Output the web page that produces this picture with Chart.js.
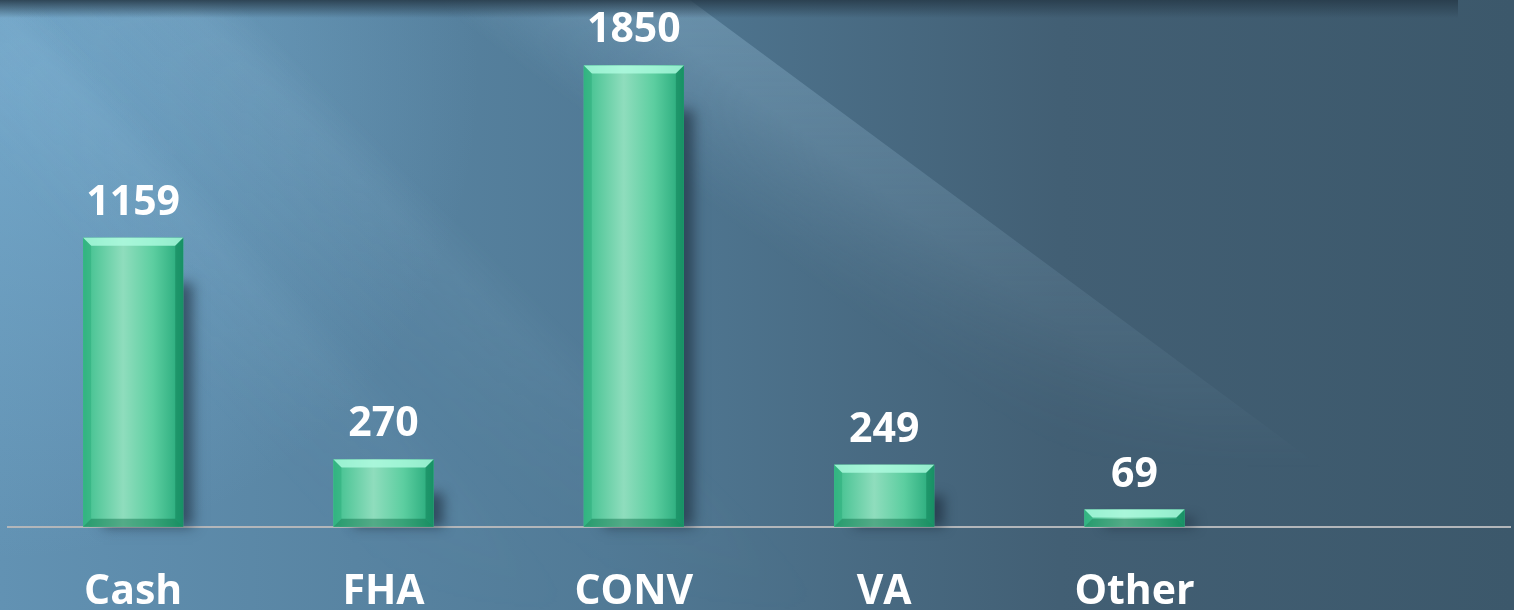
<!DOCTYPE html>
<html>
<head>
<meta charset="utf-8">
<script src="https://cdn.jsdelivr.net/npm/chart.js@4.4.0/dist/chart.umd.min.js"></script>
<style>
    html, body { margin: 0; padding: 0; background: #4a6f88; }
    #caixa { width: 1514px; height: 610px; position: relative; }
</style>
</head>
<body>
<div id="caixa"><canvas id="graficoResumo"></canvas></div>
<script>
// Dados do gráfico
const categorias = ['Cash', 'FHA', 'CONV', 'VA', 'Other', ''];
const valores = [1159, 270, 1850, 249, 69, null];
const eixoMax = 2000;

const fonteBase = { family: '"Open Sans", "DejaVu Sans", sans-serif', size: 41, weight: 'bold' };

// Feixe de luz diagonal (desenhado num canvas auxiliar)
function feixe(ctx, w, h, x0, largura, incl, alfa, fimY, nitido) {
    const aux = document.createElement('canvas');
    aux.width = w; aux.height = h;
    const a = aux.getContext('2d');
    const gp = a.createLinearGradient(x0 - largura, 0, x0, 0);
    gp.addColorStop(0, 'rgba(180,220,245,0)');
    gp.addColorStop(0.75, `rgba(180,220,245,${alfa})`);
    gp.addColorStop(1, nitido ? `rgba(180,220,245,${alfa})` : 'rgba(180,220,245,0)');
    a.save();
    a.setTransform(1, 0, 1 / incl, 1, 0, 0);
    a.fillStyle = gp;
    a.fillRect(x0 - largura, 0, largura, h);
    a.restore();
    // desvanece ao longo do feixe
    a.globalCompositeOperation = 'destination-in';
    const gl = a.createLinearGradient(0, 0, 0, fimY);
    gl.addColorStop(0, 'rgba(0,0,0,1)');
    gl.addColorStop(1, 'rgba(0,0,0,0)');
    a.fillStyle = gl;
    a.fillRect(0, 0, w, h);
    ctx.drawImage(aux, 0, 0);
}

// Fundo azul com faixas de luz
const fundo = {
    id: 'fundo',
    beforeDraw(chart) {
        const ctx = chart.ctx, w = chart.width, h = chart.height;
        ctx.save();
        const g = ctx.createLinearGradient(0, 0, w, 0);
        g.addColorStop(0, '#6292b3');
        g.addColorStop(0.4, '#517a96');
        g.addColorStop(0.7, '#425f74');
        g.addColorStop(1, '#3c586b');
        ctx.fillStyle = g;
        ctx.fillRect(0, 0, w, h);

        // canto superior esquerdo mais claro
        const r = ctx.createRadialGradient(0, 80, 10, 0, 80, 480);
        r.addColorStop(0, 'rgba(130,185,220,0.5)');
        r.addColorStop(1, 'rgba(130,185,220,0)');
        ctx.fillStyle = r;
        ctx.fillRect(0, 0, w, h);

        feixe(ctx, w, h, 690, 260, 0.74, 0.26, 470, true);
        feixe(ctx, w, h, 240, 240, 1.0, 0.10, 620, false);
        feixe(ctx, w, h, 40, 200, 1.1, 0.10, 620, false);

        // faixa escura no topo
        const t = ctx.createLinearGradient(0, 0, 0, 18);
        t.addColorStop(0, 'rgba(40,60,75,0.9)');
        t.addColorStop(1, 'rgba(40,60,75,0)');
        ctx.fillStyle = t;
        ctx.fillRect(0, 0, 1458, 18);
        ctx.restore();
    }
};

// Sombra, bisel e rótulos das barras
const biselBarras = {
    id: 'biselBarras',
    beforeDatasetsDraw(chart) {
        const ctx = chart.ctx;
        ctx.save();
        chart.getDatasetMeta(0).data.forEach((bar, i) => {
            if (valores[i] == null) return;
            const x = bar.x - bar.width / 2;
            const h = bar.base - bar.y;
            ctx.shadowColor = 'rgba(25,40,55,0.6)';
            ctx.shadowBlur = 12;
            ctx.shadowOffsetX = 14;
            ctx.fillStyle = 'rgba(40,60,75,1)';
            const topo = bar.y + Math.min(45, h * 0.5);
            ctx.fillRect(x + 6, topo, bar.width - 10, bar.base - topo);
        });
        ctx.restore();
    },
    afterDatasetsDraw(chart) {
        const ctx = chart.ctx;
        ctx.save();
        chart.getDatasetMeta(0).data.forEach((bar, i) => {
            if (valores[i] == null) return;
            const x = bar.x - bar.width / 2, w = bar.width;
            const y = bar.y, base = bar.base, h = base - y;
            const b = Math.min(8, h / 2);

            // face com degradê horizontal
            const g = ctx.createLinearGradient(x, 0, x + w, 0);
            g.addColorStop(0, '#3cbf8c');
            g.addColorStop(0.4, '#8fddbd');
            g.addColorStop(0.7, '#5ccea0');
            g.addColorStop(1, '#22a677');
            ctx.fillStyle = g;
            ctx.fillRect(x, y, w, h);

            // bisel
            const lado = (pts, cor) => {
                ctx.beginPath();
                ctx.moveTo(pts[0][0], pts[0][1]);
                pts.slice(1).forEach(p => ctx.lineTo(p[0], p[1]));
                ctx.closePath();
                ctx.fillStyle = cor;
                ctx.fill();
            };
            lado([[x, y], [x + w, y], [x + w - b, y + b], [x + b, y + b]], 'rgba(175,252,225,0.8)');
            lado([[x, y], [x + b, y + b], [x + b, base - b], [x, base]], 'rgba(30,160,110,0.35)');
            lado([[x + w, y], [x + w, base], [x + w - b, base - b], [x + w - b, y + b]], 'rgba(10,120,80,0.45)');
            lado([[x, base], [x + b, base - b], [x + w - b, base - b], [x + w, base]], 'rgba(10,110,70,0.45)');

            // rótulo de valor
            ctx.fillStyle = '#ffffff';
            ctx.font = `bold ${fonteBase.size}px ${fonteBase.family}`;
            ctx.textAlign = 'center';
            ctx.textBaseline = 'alphabetic';
            ctx.fillText(String(valores[i]), bar.x, y - 23);
        });
        ctx.restore();
    }
};

const ctx = document.getElementById('graficoResumo').getContext('2d');
const grafico = new Chart(ctx, {
    type: 'bar',
    data: {
        labels: categorias,
        datasets: [{
            label: 'Total',
            data: valores,
            backgroundColor: '#5ccea0',
            borderWidth: 0,
            barPercentage: 0.4,
            categoryPercentage: 1.0
        }]
    },
    options: {
        responsive: true,
        maintainAspectRatio: false,
        animation: false,
        layout: { padding: { top: 28, left: 8, right: 4, bottom: -48 } },
        plugins: {
            legend: { display: false },
            tooltip: { enabled: false }
        },
        scales: {
            x: {
                grid: { display: false, drawTicks: false },
                border: { display: true, color: '#b2b6ba', width: 2 },
                ticks: {
                    color: '#ffffff',
                    font: fonteBase,
                    padding: 41,
                    maxRotation: 0,
                    autoSkip: false
                }
            },
            y: { display: false, min: 0, max: eixoMax }
        }
    },
    plugins: [fundo, biselBarras]
});
</script>
</body>
</html>
